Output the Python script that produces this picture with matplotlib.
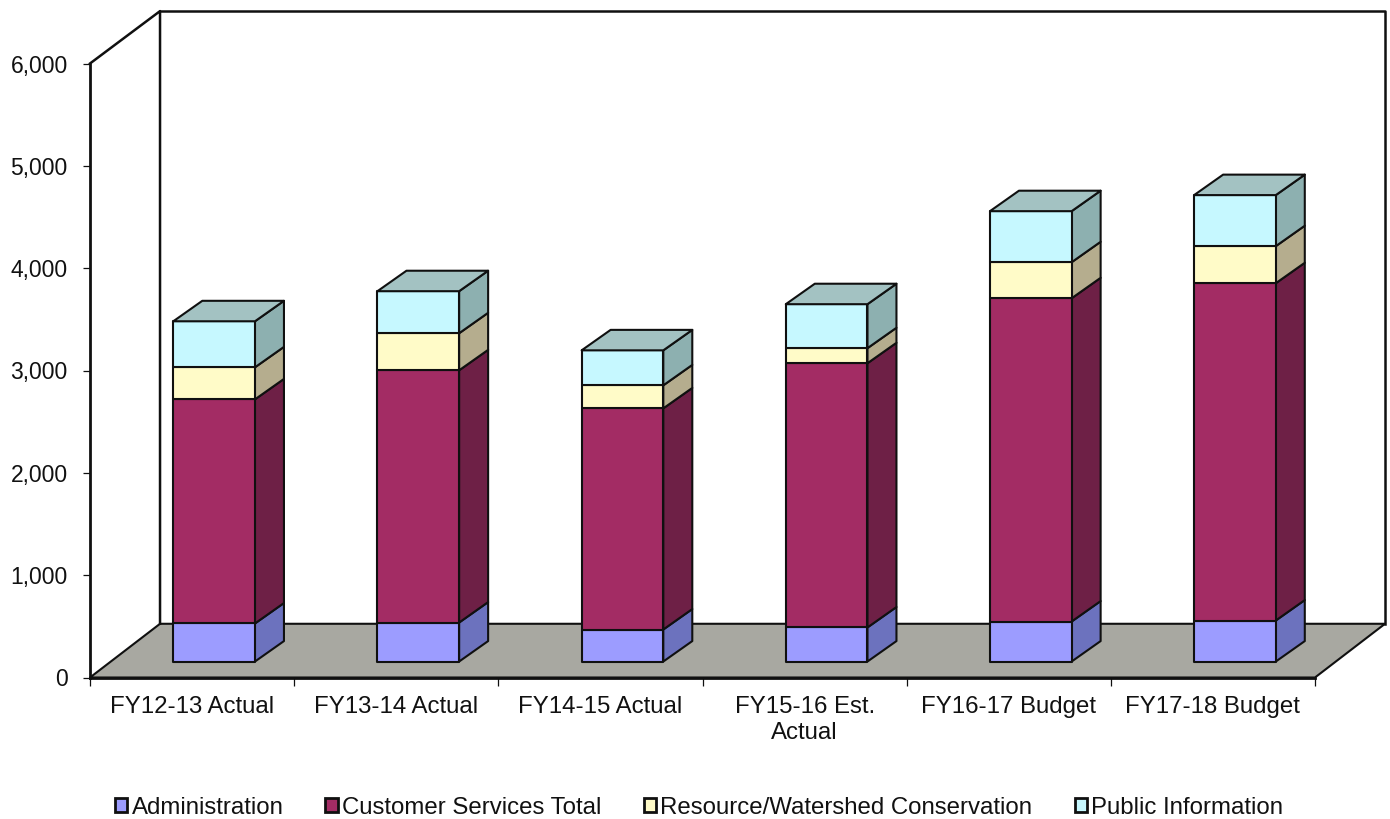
import matplotlib
matplotlib.use("Agg")
import matplotlib.pyplot as plt
from matplotlib.patches import Patch, Polygon
from matplotlib.ticker import FuncFormatter, FixedLocator, NullFormatter

plt.rcParams['font.family'] = ['Liberation Sans', 'DejaVu Sans']

# Fiscal years and stacked budget components
categories = ['FY12-13 Actual', 'FY13-14 Actual', 'FY14-15 Actual',
              'FY15-16 Est.\nActual', 'FY16-17 Budget', 'FY17-18 Budget']
administration = [372, 381, 313, 333, 391, 401]
customer_services = [2190, 2465, 2161, 2582, 3159, 3296]
resource_conservation = [313, 362, 225, 147, 352, 362]
public_information = [450, 411, 342, 430, 499, 499]

series = [
    ('Administration', administration, '#9C9CFF', '#6C72BE', '#6C72BE'),
    ('Customer Services Total', customer_services, '#A32C64', '#6E2046', '#6E2046'),
    ('Resource/Watershed Conservation', resource_conservation, '#FFFBC8', '#B5AD8E', '#B5AD8E'),
    ('Public Information', public_information, '#C6F8FF', '#8DB0B0', '#A3C2C2'),
]

# Oblique projection: how far the floor and each column recede
FLOOR_DX, FLOOR_DY, WALL_TOP_DY = 0.343, 525, 512
BAR_OFFSET_X, BAR_OFFSET_Y = 0.108, 156
BAR_WIDTH = 0.40
BAR_DX, BAR_DY = 0.142, 200
Y_MAX = 6000
EDGE = '#101010'

W, H = 1390, 819
fig = plt.figure(figsize=(W / 100, H / 100), dpi=100, facecolor='white')
ax = fig.add_axes([90 / W, 1 - 677.5 / H, 1225 / W, 614 / H])
ax.set_xlim(0, len(categories))
ax.set_ylim(0, Y_MAX)
ax.patch.set_visible(False)
for side in ('top', 'right'):
    ax.spines[side].set_visible(False)
for side in ('left', 'bottom'):
    ax.spines[side].set_linewidth(2.0)
    ax.spines[side].set_color(EDGE)
    ax.spines[side].set_zorder(20)


def poly(points, face, zorder, lw=1.5):
    ax.add_patch(Polygon(points, closed=True, facecolor=face, edgecolor=EDGE,
                         linewidth=lw, joinstyle='round', clip_on=False, zorder=zorder))


# Floor and walls
n = len(categories)
poly([(0, 0), (n, 0), (n + FLOOR_DX, FLOOR_DY), (FLOOR_DX, FLOOR_DY)], '#A8A8A1', 1)
wall_top = Y_MAX + WALL_TOP_DY
ax.plot([0, FLOOR_DX, FLOOR_DX], [Y_MAX, wall_top, FLOOR_DY], color=EDGE, lw=1.8,
        clip_on=False, zorder=2)
ax.plot([FLOOR_DX, n + FLOOR_DX, n + FLOOR_DX], [wall_top, wall_top, FLOOR_DY], color=EDGE,
        lw=1.8, clip_on=False, zorder=2)

# Stacked columns drawn as front, side and top faces
for i in range(n):
    x0 = i + 0.5 + BAR_OFFSET_X - BAR_WIDTH / 2
    x1 = x0 + BAR_WIDTH
    bottom = BAR_OFFSET_Y
    for s, (name, values, front, side, top) in enumerate(series):
        upper = bottom + values[i]
        poly([(x1, bottom), (x1 + BAR_DX, bottom + BAR_DY),
              (x1 + BAR_DX, upper + BAR_DY), (x1, upper)], side, 5 + s)
        poly([(x0, bottom), (x1, bottom), (x1, upper), (x0, upper)], front, 5 + s)
        if s == len(series) - 1:
            poly([(x0, upper), (x1, upper), (x1 + BAR_DX, upper + BAR_DY),
                  (x0 + BAR_DX, upper + BAR_DY)], top, 5 + s)
        bottom = upper

# Axis ticks and labels
ax.set_yticks(range(0, Y_MAX + 1, 1000))
ax.yaxis.set_major_formatter(FuncFormatter(lambda v, _: f'{int(v):,}'))
ax.tick_params(axis='y', length=5, width=0.9, color=EDGE, labelsize=16.5,
               labelcolor='#111111', pad=11)
ax.xaxis.set_major_locator(FixedLocator(list(range(n + 1))))
ax.xaxis.set_major_formatter(NullFormatter())
ax.xaxis.set_minor_locator(FixedLocator([i + 0.5 for i in range(n)]))
ax.set_xticklabels(categories, minor=True, linespacing=1.22)
ax.tick_params(axis='x', which='major', length=6, width=0.9, color=EDGE)
ax.tick_params(axis='x', which='minor', length=0, labelsize=17.3,
               labelcolor='#111111', pad=13.5)

# Legend along the bottom edge
handles = [Patch(facecolor=c[2], edgecolor=EDGE, linewidth=2.0, label=c[0]) for c in series]
fig.legend(handles=handles, loc='center', bbox_to_anchor=(699 / W, 1 - 808 / H), ncol=4,
           frameon=False, fontsize=17.3, handlelength=0.52, handleheight=0.52,
           handletextpad=0.18, columnspacing=1.75, borderpad=0, labelcolor='#111111')

fig.savefig('out.png', dpi=100)
